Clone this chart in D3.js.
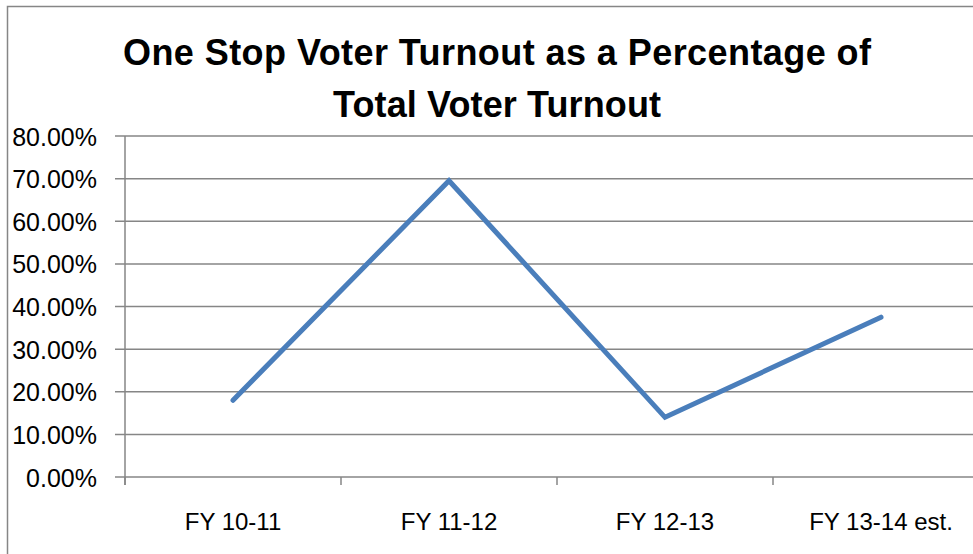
<!DOCTYPE html>
<html>
<head>
<meta charset="utf-8">
<script src="https://cdn.jsdelivr.net/npm/d3@7"></script>
<style>
  body { margin: 0; background: #fff; }
  svg { display: block; font-family: "Liberation Sans", Arial, sans-serif; }
</style>
</head>
<body>
<div id="chart"></div>
<script>
// chart data
var categories = ["FY 10-11", "FY 11-12", "FY 12-13", "FY 13-14 est."];
var turnout = [0.18, 0.695, 0.14, 0.375];
var yTicks = [0, 0.1, 0.2, 0.3, 0.4, 0.5, 0.6, 0.7, 0.8];
var titleLines = ["One Stop Voter Turnout as a Percentage of", "Total Voter Turnout"];

var svgWidth = 973;
var svgHeight = 554;

var svg = d3.select("#chart")
  .append("svg")
  .attr("width", svgWidth)
  .attr("height", svgHeight);

// outer chart border (runs off the right and bottom edges)
svg.append("rect")
  .attr("x", 7.5)
  .attr("y", 6.5)
  .attr("width", 1000)
  .attr("height", 600)
  .attr("fill", "#fff")
  .attr("stroke", "#868686")
  .attr("stroke-width", 1.5);

// scales
var xScale = d3.scaleBand()
  .domain(categories)
  .range([125, 989]);

var yScale = d3.scaleLinear()
  .domain([0, 0.8])
  .range([477, 136]);

// gridlines
svg.append("g")
  .selectAll("line")
  .data(yTicks)
  .enter()
  .append("line")
  .attr("x1", 115)
  .attr("x2", 989)
  .attr("y1", d => yScale(d))
  .attr("y2", d => yScale(d))
  .attr("stroke", "#868686")
  .attr("stroke-width", 1.5);

// y axis
var yAxis = d3.axisLeft(yScale)
  .tickValues(yTicks)
  .tickFormat(d3.format(".2%"))
  .tickSize(0)
  .tickPadding(28);

var yG = svg.append("g")
  .attr("transform", "translate(125,0)")
  .call(yAxis);
yG.select(".domain").remove();
yG.append("line")
  .attr("x1", 0).attr("x2", 0)
  .attr("y1", yScale(0.8)).attr("y2", 485)
  .attr("stroke", "#868686")
  .attr("stroke-width", 1.5);
yG.selectAll("text")
  .attr("fill", "#000")
  .attr("font-size", 25)
  .attr("dy", "0.36em");

// x axis
var xAxis = d3.axisBottom(xScale)
  .tickSize(0)
  .tickPadding(36);

var xG = svg.append("g")
  .attr("transform", "translate(0," + yScale(0) + ")")
  .call(xAxis);
xG.select(".domain").remove();
xG.selectAll("text")
  .attr("fill", "#000")
  .attr("font-size", 24);

// category boundary ticks
xG.selectAll(".bound")
  .data(categories)
  .enter()
  .append("line")
  .attr("class", "bound")
  .attr("x1", d => xScale(d))
  .attr("x2", d => xScale(d))
  .attr("y1", 0)
  .attr("y2", 8)
  .attr("stroke", "#868686")
  .attr("stroke-width", 1.5);

// data line
var createLine = d3.line()
  .x((d, i) => xScale(categories[i]) + xScale.bandwidth() / 2)
  .y(d => yScale(d));

svg.append("path")
  .attr("d", createLine(turnout))
  .attr("fill", "none")
  .attr("stroke", "#4a7ebb")
  .attr("stroke-width", 5)
  .attr("stroke-linecap", "round")
  .attr("stroke-linejoin", "miter");

// title
var titleWidths = [748, 328];
svg.append("g")
  .selectAll("text")
  .data(titleLines)
  .enter()
  .append("text")
  .attr("x", 497)
  .attr("y", (d, i) => 65 + i * 52)
  .attr("text-anchor", "middle")
  .attr("font-weight", "bold")
  .attr("font-size", 36)
  .attr("textLength", (d, i) => titleWidths[i])
  .attr("lengthAdjust", "spacing")
  .attr("fill", "#000")
  .text(d => d);
</script>
</body>
</html>
